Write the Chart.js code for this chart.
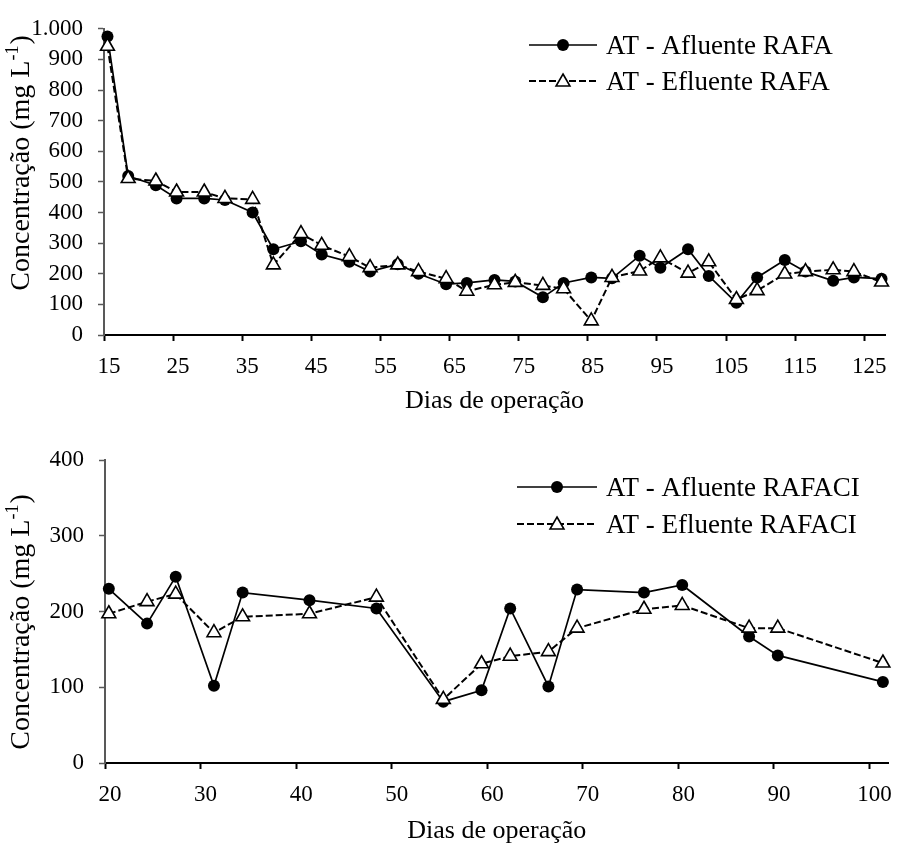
<!DOCTYPE html>
<html><head><meta charset="utf-8">
<script src="https://cdn.jsdelivr.net/npm/chart.js@4/dist/chart.umd.min.js"></script>
<style>
html,body{margin:0;padding:0;background:#fff;}
#wrap{position:relative;width:899px;height:843px;background:#fff;}
.box{position:absolute;left:0;width:899px;}
</style></head><body>
<div id="wrap">
<div class="box" style="top:0;height:420px"><canvas id="c1"></canvas></div>
<div class="box" style="top:420px;height:423px"><canvas id="c2"></canvas></div>
</div>
<script>
// ---- Top chart (RAFA) ----
const daysTop = [15.5,18.5,22.5,25.5,29.5,32.5,36.5,39.5,43.5,46.5,50.5,53.5,57.5,60.5,64.5,67.5,71.5,74.5,78.5,81.5,85.5,88.5,92.5,95.5,99.5,102.5,106.5,109.5,113.5,116.5,120.5,123.5,127.5];
const afluenteRAFA = [975,519,489,446,446,441,400,280,306,263,239,207,231,200,166,170,180,175,123,170,188,185,259,220,280,193,105,188,245,207,177,188,184];
const efluenteRAFA = [943,511,503,467,467,446,443,229,331,293,256,220,229,207,184,143,164,172,162,151,46,188,209,252,202,239,116,145,199,207,213,207,173];
const xTicksTop = [15,25,35,45,55,65,75,85,95,105,115,125];
const yTicksTop = [0,100,200,300,400,500,600,700,800,900,1000];

// ---- Bottom chart (RAFACI) ----
const daysBottom = [20.4,24.4,27.4,31.4,34.4,41.4,48.4,55.4,59.4,62.4,66.4,69.4,76.4,80.4,87.4,90.4,101.4];
const afluenteRAFACI = [230,184,246,102,225,215,204,81,96,204,101,229,225,235,167,142,107];
const efluenteRAFACI = [197,213,223,172,193,197,219,84,131,141,147,178,203,208,178,178,132];
const xTicksBottom = [20,30,40,50,60,70,80,90,100];
const yTicksBottom = [0,100,200,300,400];

const seriesNamesTop = ['AT - Afluente RAFA','AT - Efluente RAFA'];
const seriesNamesBottom = ['AT - Afluente RAFACI','AT - Efluente RAFACI'];
const xTitle = 'Dias de operação';
const yTitleMain = 'Concentração (mg L';
const yTitleSup = '-1';
const yTitleEnd = ')';

const FONT = '"Liberation Serif", "Times New Roman", Times, serif';

function fmt(v){ return v >= 1000 ? Math.floor(v/1000) + '.' + String(v%1000).padStart(3,'0') : String(v); }

function drawMarker(ctx, kind, x, y){
  ctx.save();
  if(kind==='circle'){
    ctx.beginPath(); ctx.arc(x,y,6,0,Math.PI*2); ctx.fillStyle='#000'; ctx.fill();
  } else {
    const r=8;
    ctx.beginPath();
    ctx.moveTo(x, y-r);
    ctx.lineTo(x + r*Math.sin(2*Math.PI/3), y - r*Math.cos(2*Math.PI/3));
    ctx.lineTo(x + r*Math.sin(4*Math.PI/3), y - r*Math.cos(4*Math.PI/3));
    ctx.closePath();
    ctx.fillStyle='#fff'; ctx.fill();
    ctx.lineWidth=1.6; ctx.strokeStyle='#000'; ctx.stroke();
  }
  ctx.restore();
}

function decoPlugin(cfg){
  return {
    id:'deco',
    afterDraw(chart){
      const ctx = chart.ctx, ca = chart.chartArea;
      ctx.save();
      // x title
      ctx.fillStyle='#000';
      ctx.font = '26px ' + FONT;
      ctx.textAlign='center'; ctx.textBaseline='alphabetic';
      ctx.fillText(xTitle, (ca.left+ca.right)/2, cfg.xTitleY);
      // y title rotated with superscript
      ctx.save();
      ctx.translate(cfg.yTitleX, cfg.yTitleCY);
      ctx.rotate(-Math.PI/2);
      ctx.textAlign='left';
      ctx.font = '28px ' + FONT;
      const w1 = ctx.measureText(yTitleMain).width;
      const w3 = ctx.measureText(yTitleEnd).width;
      ctx.font = '18px ' + FONT;
      const w2 = ctx.measureText(yTitleSup).width;
      const tot = w1+w2+w3+1;
      let x0 = -tot/2;
      ctx.font = '28px ' + FONT;
      ctx.fillText(yTitleMain, x0, 0);
      ctx.font = '18px ' + FONT;
      ctx.fillText(yTitleSup, x0+w1, -11);
      ctx.font = '28px ' + FONT;
      ctx.fillText(yTitleEnd, x0+w1+w2+1, 0);
      ctx.restore();
      // legend
      const L = cfg.legend;
      for(let i=0;i<2;i++){
        const ly = L.rows[i];
        ctx.save();
        ctx.strokeStyle='#000';
        if(i===0){ ctx.lineWidth=1.6; ctx.setLineDash([]); }
        else { ctx.lineWidth=2; ctx.setLineDash([7,3]); }
        ctx.beginPath(); ctx.moveTo(L.x0, ly); ctx.lineTo(L.x1, ly); ctx.stroke();
        ctx.restore();
        drawMarker(ctx, i===0?'circle':'triangle', (L.x0+L.x1)/2, i===0?ly:ly+1);
        ctx.fillStyle='#000';
        ctx.font = '27px ' + FONT;
        ctx.textAlign='left'; ctx.textBaseline='alphabetic';
        ctx.fillText(cfg.names[i], L.tx, ly + L.baseOff);
      }
      ctx.restore();
    }
  };
}

function makeChart(id, days, a, e, xt, yt, xmin, xmax, ymax, lay, deco){
  const axisGrey = '#595959';
  return new Chart(document.getElementById(id), {
    type:'line',
    data:{ datasets:[
      { label:deco.names[0], data:days.map((d,i)=>({x:d,y:a[i]})), borderColor:'#000', borderWidth:1.7,
        pointStyle:'circle', pointRadius:6, pointBackgroundColor:'#000', pointBorderColor:'#000', pointBorderWidth:0,
        tension:0, order:1, clip:false },
      { label:deco.names[1], data:days.map((d,i)=>({x:d,y:e[i]})), borderColor:'#000', borderWidth:2, borderDash:[7,3],
        pointStyle:'triangle', pointRadius:8, pointBackgroundColor:'#fff', pointBorderColor:'#000', pointBorderWidth:1.6,
        tension:0, order:0, clip:false }
    ]},
    options:{
      responsive:true, maintainAspectRatio:false, animation:false,
      layout:{ padding:lay.padding },
      plugins:{ legend:{display:false}, tooltip:{enabled:false} },
      scales:{
        x:{ type:'linear', min:xmin, max:xmax,
          afterBuildTicks:s=>{ s.ticks = xt.map(v=>({value:v})); },
          afterFit:s=>{ s.height = lay.xh; },
          grid:{ display:true, drawOnChartArea:false, drawTicks:true, tickLength:6, tickColor:'#000', tickWidth:2 },
          border:{ display:true, color:'#000', width:2 },
          ticks:{ color:'#000', font:{family:FONT, size:23}, padding:12, labelOffset:5, maxRotation:0, autoSkip:false,
                  callback:v=>String(v) }
        },
        y:{ type:'linear', min:0, max:ymax,
          afterBuildTicks:s=>{ s.ticks = yt.map(v=>({value:v})); },
          afterFit:s=>{ s.width = lay.yw; },
          grid:{ display:true, drawOnChartArea:false, drawTicks:true, tickLength:6, tickColor:axisGrey, tickWidth:1.5 },
          border:{ display:true, color:axisGrey, width:2 },
          ticks:{ color:'#000', font:{family:FONT, size:23}, padding:15, autoSkip:false, callback:v=>fmt(v) }
        }
      }
    },
    plugins:[decoPlugin(deco)]
  });
}

makeChart('c1', daysTop, afluenteRAFA, efluenteRAFA, xTicksTop, yTicksTop, 15, 128, 1000,
  { padding:{left:0, top:24, right:14, bottom:0}, yw:104, xh:85 },
  { names:seriesNamesTop, xTitleY:408, yTitleX:29, yTitleCY:163,
    legend:{ x0:529, x1:597, tx:606, rows:[45,81], baseOff:9 } });

makeChart('c2', daysBottom, afluenteRAFACI, efluenteRAFACI, xTicksBottom, yTicksBottom, 20, 102, 400,
  { padding:{left:0, top:40, right:6, bottom:0}, yw:105, xh:80 },
  { names:seriesNamesBottom, xTitleY:418, yTitleX:29, yTitleCY:202,
    legend:{ x0:517, x1:597, tx:606, rows:[67,104], baseOff:9 } });
</script>
</body></html>
